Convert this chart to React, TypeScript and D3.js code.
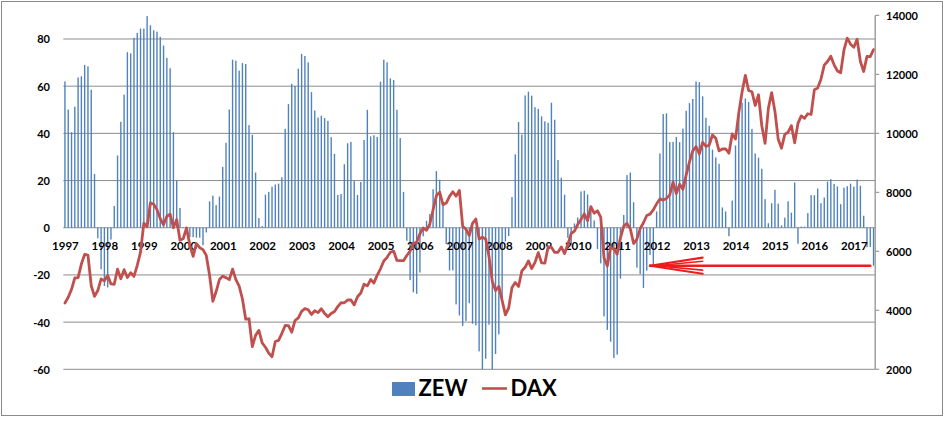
import * as d3 from "d3";

// ZEW sentiment, monthly, first category = Dec 1997
const ZEW = [
  62.0, 50.1, 40.5, 51.3, 63.7, 64.2, 69.0, 68.4, 58.5, 22.8,
  -4.5, -17.6, -24.7, -25.3, -5.0,
  9.2, 30.6, 44.9, 56.4, 74.4, 73.9, 80.5, 82.6, 84.4, 84.4, 89.7, 85.8, 83.7, 83.1, 80.9, 77.2, 72.0, 67.6, 40.5, 20.0, 8.4,
  0.3, -1.5, -4.0, -4.0, -4.2, -4.2, -7.4, -2.0,
  11.2, 13.6, 9.6, 13.2, 25.8, 36.0, 50.1, 71.2, 70.8, 66.6, 69.8, 69.4, 43.5, 39.4, 23.4, 4.1, 0.7,
  14.0, 15.2, 17.4, 18.3, 18.7, 21.4, 41.9, 52.4, 61.0, 60.1, 67.4, 73.7, 72.8, 70.1, 57.5, 49.7,
  46.7, 47.5, 46.5, 45.3, 38.4, 31.3,
  13.9, 14.3, 26.9, 35.8, 36.4, 19.8, 13.9, 19.4, 37.2, 50.0, 38.7, 39.2, 38.5, 61.9,
  71.2, 70.1, 63.3, 62.6, 50.0, 38.0, 15.2, -5.5, -22.2, -27.4, -28.0, -19.0,
  -3.6, 2.9, 5.8, 16.3, 24.0, 20.3, 10.4, -6.9, -18.1, -18.1, -32.5, -37.2,
  -41.6, -39.5, -32.0, -40.7, -41.4, -52.4, -63.9, -55.5, -41.1, -63.0, -53.5, -45.2,
  -31.0, -5.8, -3.5, 13.0, 31.1, 44.8, 39.5, 56.1, 57.7, 56.0, 51.1, 50.4,
  47.2, 45.1, 44.5, 53.0, 45.8, 28.7, 21.2, 14.0, -4.3, -7.2, 1.8, 4.3,
  15.4, 15.7, 14.1, 7.6, 3.1, -9.0, -15.1, -37.6, -43.3, -48.3, -55.2, -53.8,
  -21.6, 5.4, 22.3, 23.4, 10.8, -16.9, -19.6, -25.5, -18.2, -11.5, -15.7, 6.9,
  31.5, 48.2, 48.5, 36.3, 36.4, 38.5, 36.3, 42.0, 49.6, 52.8, 54.6, 62.0,
  61.7, 55.7, 46.6, 43.2, 33.1, 29.8, 27.1, 8.6, 6.9, -3.6, 11.5, 34.9,
  48.4, 53.0, 54.8, 53.3, 41.9, 31.5, 29.7, 25.0, 12.1, 1.9, 10.4, 16.1,
  10.2, 1.0, 4.3, 11.2, 6.4, 19.2, -6.8, 0.5, 0.5, 6.2, 13.8, 13.8,
  16.6, 10.4, 12.8, 19.5, 20.6, 18.6, 17.5, 10.0, 17.0, 17.6, 18.7, 17.4,
  20.4, 17.8, 5.1, -8.2, -8.2, -16.1,
];

// DAX, same months
const DAX = [
  4250,
  4442, 4710, 5096, 5107, 5568, 5897, 5874, 4834, 4474, 4671, 5064, 5002,
  5184, 4894, 4884, 5393, 5072, 5378, 5111, 5273, 5150, 5525, 5975, 6958,
  6835, 7645, 7599, 7414, 7109, 6898, 7190, 7264, 6798, 7077, 6372, 6434,
  6795, 6208, 5829, 6265, 6123, 6058, 5861, 5188, 4308, 4636, 5045, 5160,
  5107, 5039, 5397, 5041, 4818, 4383, 3700, 3713, 2769, 3153, 3320, 2893,
  2748, 2547, 2424, 2942, 2982, 3221, 3487, 3484, 3257, 3655, 3746, 3965,
  4059, 4018, 3857, 3985, 3921, 4053, 3895, 3785, 3893, 3960, 4126, 4256,
  4255, 4350, 4349, 4185, 4460, 4587, 4887, 4829, 5044, 4929, 5193, 5408,
  5674, 5796, 5970, 6009, 5692, 5683, 5682, 5859, 6004, 6268, 6309, 6597,
  6789, 6716, 6917, 7409, 7883, 8007, 7584, 7638, 7862, 8020, 7871, 8067,
  6851, 6748, 6535, 6949, 7097, 6418, 6479, 6422, 5831, 4988, 4669, 4810,
  4338, 3844, 4085, 4770, 4941, 4809, 5332, 5459, 5675, 5415, 5625, 5957,
  5608, 5598, 6154, 6136, 5964, 5966, 6148, 5925, 6229, 6601, 6688, 6914,
  7077, 7272, 7041, 7514, 7294, 7376, 7159, 5785, 5502, 6141, 6089, 5898,
  6458, 6856, 6947, 6761, 6264, 6416, 6772, 6970, 7216, 7260, 7405, 7612,
  7776, 7741, 7795, 7914, 8349, 7959, 8276, 8104, 8594, 9033, 9406, 9552,
  9306, 9692, 9556, 9603, 9943, 9833, 9407, 9470, 9474, 9326, 9980, 9806,
  10694, 11402, 11966, 11454, 11413, 10945, 11309, 10259, 9660, 10850, 11382, 10743,
  9798, 9495, 9966, 10039, 10263, 9680, 10337, 10593, 10511, 10665, 10640, 11481,
  11535, 11834, 12313, 12438, 12615, 12325, 12118, 12056, 12829, 13230, 13024, 12918,
  13189, 12436, 12097, 12612, 12605, 12840,
];

const LEFT_TICKS = [-60, -40, -20, 0, 20, 40, 60, 80];
const RIGHT_TICKS = [2000, 4000, 6000, 8000, 10000, 12000, 14000];
const FIRST_MONTH = new Date(1997, 11, 1);

// annotation arrow: drawn at the latest ZEW level, pointing back to 2012
const ARROW_LEVEL = -16.1;
const ARROW_TIP = 178;
const ARROW_TAIL = 245;
const ARROW_BARB = 194;

const W = 945;
const H = 423;
const PLOT = { left: 63.3, right: 875.2, top: 15.4, bottom: 369.3 };
const FONT = "Lato, 'Open Sans', sans-serif";
const BLUE = "#4F81BD";
const RED = "#C0504D";
const GRID = "#8c8c8c";

export default function App() {
  const months = ZEW.map((_, i) => d3.timeMonth.offset(FIRST_MONTH, i));

  const x = d3
    .scaleBand<number>()
    .domain(d3.range(ZEW.length))
    .range([PLOT.left, PLOT.right])
    .padding(0);
  const cx = (i: number) => x(i)! + x.bandwidth() / 2;
  const barW = x.bandwidth() * 0.42;

  const yL = d3.scaleLinear().domain([-60, 90]).range([PLOT.bottom, PLOT.top]);
  const yR = d3.scaleLinear().domain([2000, 14000]).range([PLOT.bottom, PLOT.top]);

  const daxLine = d3
    .line<number>()
    .x((_, i) => cx(i))
    .y((d) => yR(d));

  const yearIdx = months.map((_, i) => i).filter((i) => i % 12 === 0);

  const ay = yL(ARROW_LEVEL);
  const barbDy = yL(ARROW_LEVEL) - yL(ARROW_LEVEL + 3.4);

  return (
    <svg
      width={W}
      height={H}
      style={{ position: "absolute", left: 0, top: 0, background: "#fff" }}
      fontFamily={FONT}
    >
      <rect x={1.5} y={1.5} width={941} height={414} fill="#fff" stroke="#8a8a8a" />

      {LEFT_TICKS.map((t) => (
        <line
          key={t}
          x1={PLOT.left}
          x2={PLOT.right}
          y1={yL(t)}
          y2={yL(t)}
          stroke={GRID}
          strokeWidth={1}
        />
      ))}

      {ZEW.map((v, i) => {
        const c = Math.max(-60, Math.min(90, v));
        return (
          <rect
            key={i}
            x={cx(i) - barW / 2}
            y={Math.min(yL(0), yL(c))}
            width={barW}
            height={Math.abs(yL(c) - yL(0))}
            fill={BLUE}
          />
        );
      })}

      {LEFT_TICKS.map((t) => (
        <text
          key={t}
          x={50}
          y={yL(t)}
          textAnchor="end"
          dominantBaseline="central"
          fontSize={11}
          fontWeight="bold"
          fill="#000"
        >
          {t}
        </text>
      ))}

      {yearIdx.map((i) => (
        <text
          key={i}
          x={cx(i) + 0.5}
          y={yL(0) + 17.5}
          textAnchor="middle"
          dominantBaseline="central"
          fontSize={11.5}
          fontWeight="bold"
          fill="#000"
        >
          {months[i].getFullYear()}
        </text>
      ))}

      <path
        d={daxLine(DAX) ?? ""}
        fill="none"
        stroke={RED}
        strokeWidth={2.8}
        strokeLinejoin="round"
        strokeLinecap="round"
      />

      <g stroke="#ee1c1c" strokeLinecap="round" fill="none">
        <line x1={cx(ARROW_TAIL)} x2={cx(ARROW_TIP)} y1={ay} y2={ay} strokeWidth={2.6} />
        <line x1={cx(ARROW_TIP)} y1={ay} x2={cx(ARROW_BARB)} y2={ay - barbDy} strokeWidth={2.2} />
        <line x1={cx(ARROW_TIP)} y1={ay} x2={cx(ARROW_BARB)} y2={ay + barbDy} strokeWidth={2.2} />
        <line x1={cx(ARROW_TIP) + 6} y1={ay} x2={cx(ARROW_BARB)} y2={ay - barbDy * 0.55} strokeWidth={1.6} />
        <line x1={cx(ARROW_TIP) + 6} y1={ay} x2={cx(ARROW_BARB)} y2={ay + barbDy * 0.55} strokeWidth={1.6} />
      </g>

      <line x1={PLOT.right} x2={PLOT.right} y1={PLOT.top} y2={PLOT.bottom} stroke="#9a9a9a" strokeWidth={1.4} />
      {RIGHT_TICKS.map((t) => (
        <g key={t}>
          <line x1={PLOT.right} x2={PLOT.right + 4} y1={yR(t)} y2={yR(t)} stroke="#9a9a9a" strokeWidth={1.2} />
          <text
            x={886}
            y={yR(t)}
            dominantBaseline="central"
            fontSize={11}
            fontWeight="bold"
            fill="#000"
          >
            {t}
          </text>
        </g>
      ))}

      <g fontSize={22} fontWeight="bold" fill="#000">
        <rect x={392} y={382} width={23} height={14} fill={BLUE} />
        <text x={418.5} y={396}>ZEW</text>
        <line x1={482} x2={507} y1={388.5} y2={388.5} stroke={RED} strokeWidth={2.6} />
        <text x={510.5} y={396}>DAX</text>
      </g>
    </svg>
  );
}
